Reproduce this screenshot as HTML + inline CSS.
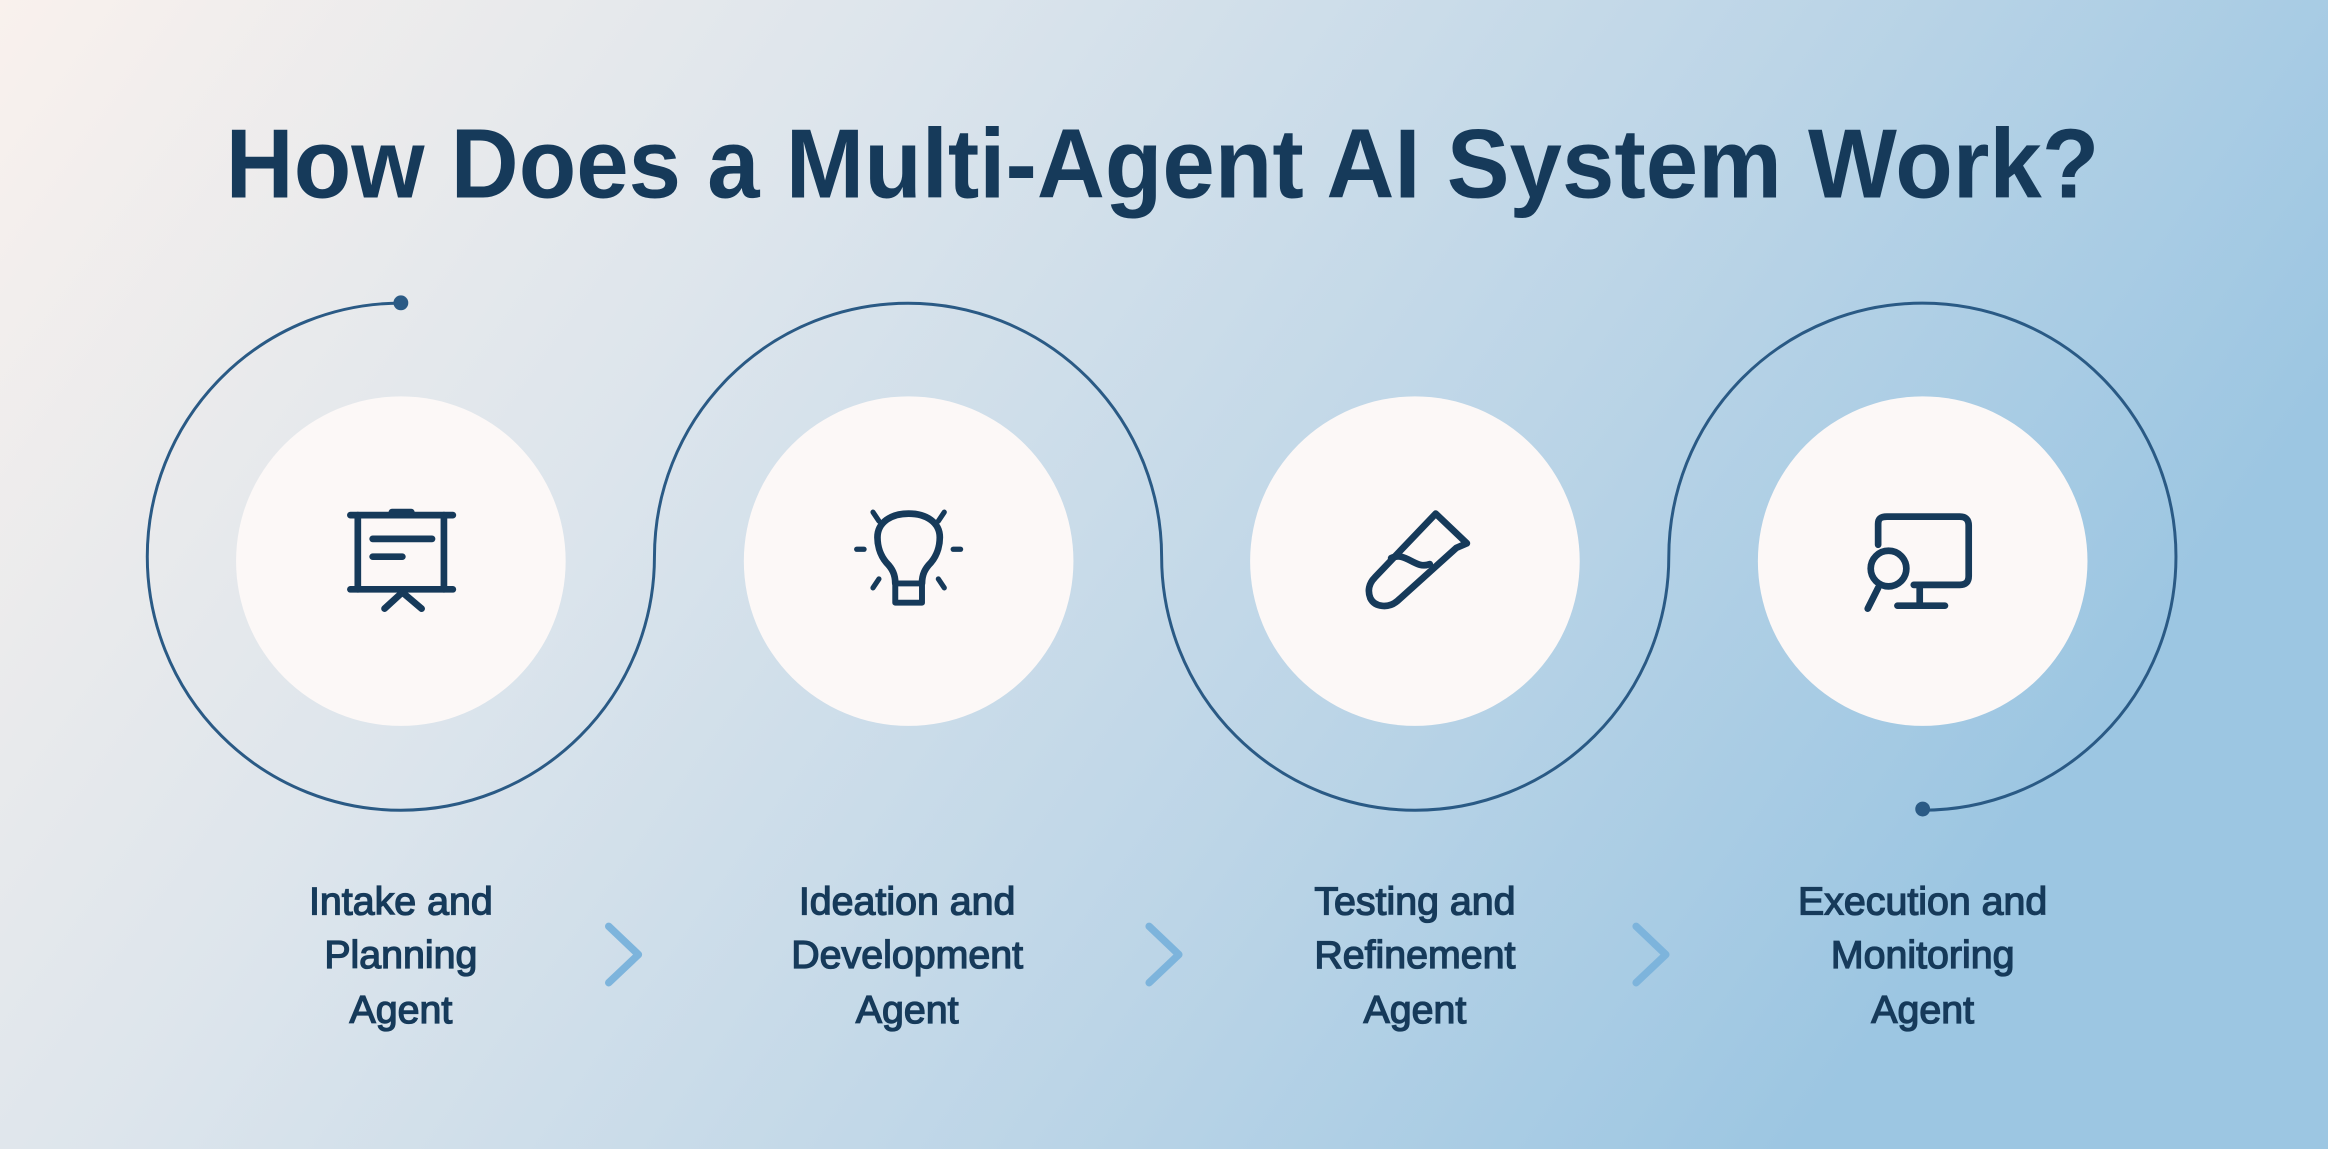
<!DOCTYPE html>
<html><head><meta charset="utf-8"><style>
html,body{margin:0;padding:0;width:2328px;height:1149px;overflow:hidden}
svg{display:block}
</style></head><body>
<svg width="2328" height="1149" viewBox="0 0 1568 774" preserveAspectRatio="none" xmlns="http://www.w3.org/2000/svg">
<defs>
<linearGradient id="bg" x1="0" y1="0" x2="1" y2="0.35">
<stop offset="0" stop-color="#f9f1ed"/>
<stop offset="0.35" stop-color="#dde5ec"/>
<stop offset="0.7" stop-color="#bcd5e7"/>
<stop offset="1" stop-color="#9cc6e2"/>
</linearGradient>
</defs>
<rect width="1568" height="774" fill="url(#bg)"/>
<text x="783" y="133" text-anchor="middle" font-family="Liberation Sans, sans-serif" font-weight="bold" font-size="66" fill="#163a5a" textLength="1262" lengthAdjust="spacingAndGlyphs">How Does a Multi-Agent AI System Work?</text>

<path d="M270,204.2 A170.8,170.8 0 1 0 440.8,375 A170.8,170.8 0 0 1 782.4,375 A170.8,170.8 0 0 0 1124,375 A170.8,170.8 0 1 1 1294.8,545.8" fill="none" stroke="#2a5a85" stroke-width="2"/>
<circle cx="270" cy="204" r="5" fill="#2a5a85"/>
<circle cx="1295" cy="545" r="5" fill="#2a5a85"/>

<g fill="#fcf8f7">
<circle cx="270" cy="378" r="111"/>
<circle cx="612" cy="378" r="111"/>
<circle cx="953" cy="378" r="111"/>
<circle cx="1295" cy="378" r="111"/>
</g>

<g fill="none" stroke="#163a5a" stroke-width="4.5" stroke-linecap="round" stroke-linejoin="round">
<!-- icon 1 -->
<line x1="236" y1="347" x2="305" y2="347"/>
<line x1="264" y1="345" x2="277" y2="345"/>
<line x1="241" y1="347" x2="241" y2="397"/>
<line x1="299" y1="347" x2="299" y2="397"/>
<line x1="236" y1="397" x2="305" y2="397"/>
<line x1="251" y1="363" x2="291" y2="363"/>
<line x1="251" y1="375" x2="271" y2="375"/>
<line x1="271" y1="399" x2="259" y2="410"/>
<line x1="271" y1="399" x2="284" y2="410"/>
<!-- icon 2 -->
<path d="M603,393 C603,387 601,383 597,379 C592,373 591,366 591,362 C591,352 600,346 612,346 C624,346 633,352 633,362 C633,366 632,373 627,379 C623,383 621,387 621,393"/>
<rect x="603" y="393" width="18" height="13" stroke-width="4"/>
<line x1="588" y1="345" x2="592" y2="351" stroke-width="3.5"/>
<line x1="632" y1="351" x2="636" y2="345" stroke-width="3.5"/>
<line x1="577" y1="370" x2="582" y2="370" stroke-width="3.5"/>
<line x1="642" y1="370" x2="647" y2="370" stroke-width="3.5"/>
<line x1="588" y1="396" x2="592" y2="390" stroke-width="3.5"/>
<line x1="632" y1="390" x2="636" y2="396" stroke-width="3.5"/>
<!-- icon 3 -->
<path d="M967,346 L988,366 L981,369 L941,405 C935,410 926,409 923,403 C921,398 922,393 926,389 Z"/>
<path d="M937,376 C947,371 953,384 963,380"/>
<!-- icon 4 -->
<path d="M1265,367 L1265,353 C1265,349 1267,348 1271,348 L1320,348 C1324,348 1326,350 1326,354 L1326,388 C1326,392 1324,394 1320,394 L1289,394"/>
<line x1="1293" y1="395" x2="1293" y2="407"/>
<line x1="1278" y1="408" x2="1310" y2="408"/>
<circle cx="1272" cy="383" r="12"/>
<line x1="1265" y1="396" x2="1258" y2="410"/>
</g>

<g fill="none" stroke="#7db4dc" stroke-width="5" stroke-linecap="round" stroke-linejoin="round">
<polyline points="410,624 430,643 410,662"/>
<polyline points="774,624 794,643 774,662"/>
<polyline points="1102,624 1122,643 1102,662"/>
</g>

<g font-family="Liberation Sans, sans-serif" font-size="26.5" fill="#163a5a" stroke="#163a5a" stroke-width="0.9" text-anchor="middle">
<text x="270" y="616">Intake and</text><text x="270" y="652">Planning</text><text x="270" y="689">Agent</text>
<text x="611" y="616">Ideation and</text><text x="611" y="652">Development</text><text x="611" y="689">Agent</text>
<text x="953" y="616">Testing and</text><text x="953" y="652">Refinement</text><text x="953" y="689">Agent</text>
<text x="1295" y="616">Execution and</text><text x="1295" y="652">Monitoring</text><text x="1295" y="689">Agent</text>
</g>
</svg>
</body></html>
